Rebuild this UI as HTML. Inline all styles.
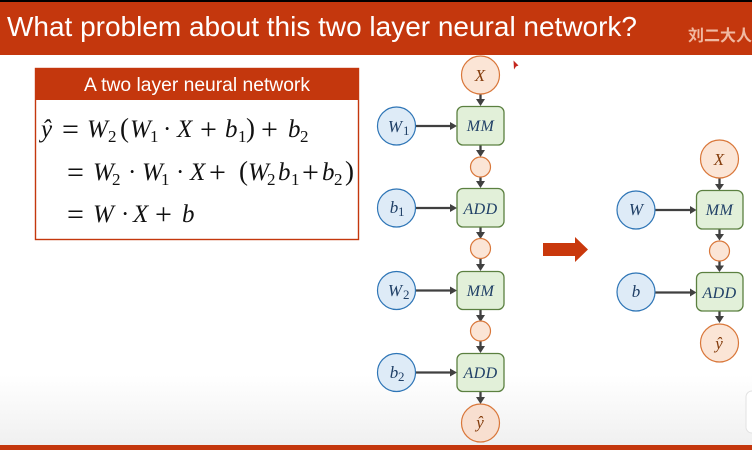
<!DOCTYPE html>
<html><head><meta charset="utf-8"><style>
html,body{margin:0;padding:0;background:#fff;width:752px;height:450px;overflow:hidden}
svg{display:block}
.m{font-family:"Liberation Serif",serif;font-size:25px;fill:#111}
.i{font-style:italic}
.op{font-family:"Liberation Serif",serif;font-size:30px;fill:#111}
.p{font-family:"Liberation Serif",serif;font-size:27px;fill:#111}
.s{font-family:"Liberation Serif",serif;font-size:17px;fill:#111}
.n{font-family:"Liberation Serif",serif;font-style:italic;font-size:17px;text-anchor:middle;fill:#1f3f66}
.t{font-family:"Liberation Serif",serif;font-style:italic;font-size:16px;text-anchor:middle;fill:#1f3f66;letter-spacing:.4px}
.o{font-family:"Liberation Serif",serif;font-style:italic;font-size:17px;text-anchor:middle;fill:#843c0c}
.ns{font-family:"Liberation Serif",serif;font-size:13px;fill:#1f3f66}
.b{fill:#deebf7;stroke:#2e75b6;stroke-width:1.2}
.r{fill:#fbe5d6;stroke:#d9773a;stroke-width:1.2}
.g{fill:#e2f0d9;stroke:#5b8040;stroke-width:1.3}
.l{stroke:#404040;stroke-width:2.3;fill:none}
.h{fill:#404040}
</style></head><body>
<svg width="752" height="450" viewBox="0 0 752 450" xmlns="http://www.w3.org/2000/svg">
<defs>
<linearGradient id="bg" x1="0" y1="0" x2="0" y2="1"><stop offset="0" stop-color="#fff"/><stop offset="1" stop-color="#f0f0f0"/></linearGradient>
</defs>
<rect width="752" height="450" fill="#fff"/>
<rect y="375" width="752" height="70" fill="url(#bg)"/>
<rect width="752" height="2" fill="#000"/>
<rect y="2" width="752" height="53" fill="#c4370d"/>
<rect y="445" width="752" height="5" fill="#c4370d"/>
<text x="7" y="36" font-family="'Liberation Sans',sans-serif" font-size="28" fill="#fff" textLength="630" lengthAdjust="spacingAndGlyphs">What problem about this two layer neural network?</text>
<text x="688" y="41" font-family="'Liberation Sans','Noto Sans CJK SC',sans-serif" font-size="16" font-weight="700" fill="#f0b9a2">刘二大人</text>

<rect x="35.500" y="68.500" width="323" height="171" fill="#fff" stroke="#c4370d" stroke-width="1.4"/>
<rect x="35" y="68" width="324" height="32" fill="#c4370d"/>
<text x="84" y="91" font-family="'Liberation Sans',sans-serif" font-size="19" fill="#fff" textLength="226" lengthAdjust="spacingAndGlyphs">A two layer neural network</text>

<!-- line 1 -->
<text class="m i" x="41" y="137">ŷ</text>
<text class="op" x="62" y="139">=</text>
<text class="m i" x="87" y="137">W</text><text class="s" x="108" y="142">2</text>
<text class="p" x="120" y="137">(</text>
<text class="m i" x="130" y="137">W</text><text class="s" x="150" y="142">1</text>
<text class="m" x="163" y="137">·</text>
<text class="m i" x="177" y="137">X</text>
<text class="op" x="200" y="139">+</text>
<text class="m i" x="225" y="137">b</text><text class="s" x="238" y="142">1</text>
<text class="p" x="246" y="137">)</text>
<text class="op" x="261" y="139">+</text>
<text class="m i" x="288" y="137">b</text><text class="s" x="300" y="142">2</text>
<!-- line 2 -->
<text class="op" x="67" y="182">=</text>
<text class="m i" x="93" y="180">W</text><text class="s" x="112" y="185">2</text>
<text class="m" x="128" y="180">·</text>
<text class="m i" x="142" y="180">W</text><text class="s" x="161" y="185">1</text>
<text class="m" x="176" y="180">·</text>
<text class="m i" x="190" y="180">X</text>
<text class="op" x="209" y="182">+</text>
<text class="p" x="239" y="180">(</text>
<text class="m i" x="248" y="180">W</text><text class="s" x="267" y="185">2</text>
<text class="m i" x="278" y="180">b</text><text class="s" x="291" y="185">1</text>
<text class="op" x="302" y="182">+</text>
<text class="m i" x="322" y="180">b</text><text class="s" x="334" y="185">2</text>
<text class="p" x="345" y="180">)</text>
<!-- line 3 -->
<text class="op" x="67" y="224">=</text>
<text class="m i" x="93" y="222">W</text>
<text class="m" x="121" y="222">·</text>
<text class="m i" x="133" y="222">X</text>
<text class="op" x="155" y="224">+</text>
<text class="m i" x="182" y="222">b</text>

<!-- left graph lines -->
<path class="l" d="M480.500 94V100M480.500 145V151M480.500 177V182M480.500 227V233M480.500 259V265M480.500 310V316M480.500 341V347M480.500 391.500V398"/>
<path class="l" d="M416 126H451M416 208H451M416 290.500H451M416 372.500H451"/>
<path class="h" d="M476 99h9l-4.500 7zM476 150h9l-4.500 7zM476 181h9l-4.500 7zM476 232h9l-4.500 7zM476 264h9l-4.500 7zM476 315h9l-4.500 7zM476 346h9l-4.500 7zM476 397h9l-4.500 7z"/>
<path class="h" d="M450 122v8l7-4zM450 204v8l7-4zM450 286.500v8l7-4zM450 368.500v8l7-4z"/>

<circle class="r" cx="480.500" cy="75" r="19"/><text class="o" x="480" y="81">X</text>
<rect class="g" x="457" y="106.500" width="47" height="38.500" rx="6"/><text class="t" x="480.500" y="131">MM</text>
<circle class="b" cx="396.500" cy="126" r="19"/><text class="n" x="395" y="132">W</text><text class="ns" x="403" y="135">1</text>
<circle class="r" cx="480.500" cy="167" r="10"/>
<rect class="g" x="457" y="188.500" width="47" height="38.500" rx="6"/><text class="t" x="480.500" y="214">ADD</text>
<circle class="b" cx="396.500" cy="208" r="19"/><text class="n" x="394" y="213">b</text><text class="ns" x="398" y="216">1</text>
<circle class="r" cx="480.500" cy="248.500" r="10"/>
<rect class="g" x="457" y="271.500" width="47" height="38" rx="6"/><text class="t" x="480.500" y="296">MM</text>
<circle class="b" cx="396.500" cy="290.500" r="19"/><text class="n" x="395" y="296">W</text><text class="ns" x="403" y="299">2</text>
<circle class="r" cx="480.500" cy="331" r="10"/>
<rect class="g" x="457" y="353.500" width="47" height="38" rx="6"/><text class="t" x="480.500" y="378">ADD</text>
<circle class="b" cx="396.500" cy="372.500" r="19"/><text class="n" x="394" y="378">b</text><text class="ns" x="398" y="381">2</text>
<circle class="r" cx="480.500" cy="423" r="19" style="fill:#f8dfd0"/><text class="o" x="480" y="428">ŷ</text>

<!-- arrow -->
<path fill="#c9380c" d="M543 243H575V237L588 249.500L575 262V256H543Z"/>

<!-- right graph lines -->
<path class="l" d="M719.500 178V185M719.500 229V235M719.500 261V266M719.500 311V317"/>
<path class="l" d="M655 210H691M655 292.500H691"/>
<path class="h" d="M715 184h9l-4.500 6.500zM715 234h9l-4.500 6.500zM715 265.500h9l-4.500 6.500zM715 316h9l-4.500 7z"/>
<path class="h" d="M690 206v8l6.500-4zM690 288.500v8l6.500-4z"/>

<circle class="r" cx="719.500" cy="159" r="19"/><text class="o" x="719" y="165">X</text>
<rect class="g" x="696.500" y="190.500" width="46.500" height="38.500" rx="6"/><text class="t" x="719.500" y="215">MM</text>
<circle class="b" cx="636" cy="210" r="19"/><text class="n" x="636" y="215">W</text>
<circle class="r" cx="719.500" cy="251" r="10"/>
<rect class="g" x="696.500" y="272.500" width="46.500" height="38.500" rx="6"/><text class="t" x="719.500" y="298">ADD</text>
<circle class="b" cx="636" cy="292" r="19"/><text class="n" x="636" y="297">b</text>
<circle class="r" cx="719.500" cy="343" r="19"/><text class="o" x="719" y="349">ŷ</text>

<!-- cursor -->
<path fill="#c4261d" d="M513.500 60.500L518.500 65.500L516 66.500L514 69.500Z"/>
<!-- tab -->
<rect x="746" y="391" width="14" height="42" rx="6" fill="#fff" stroke="#e2e2e2"/>
</svg>
</body></html>
